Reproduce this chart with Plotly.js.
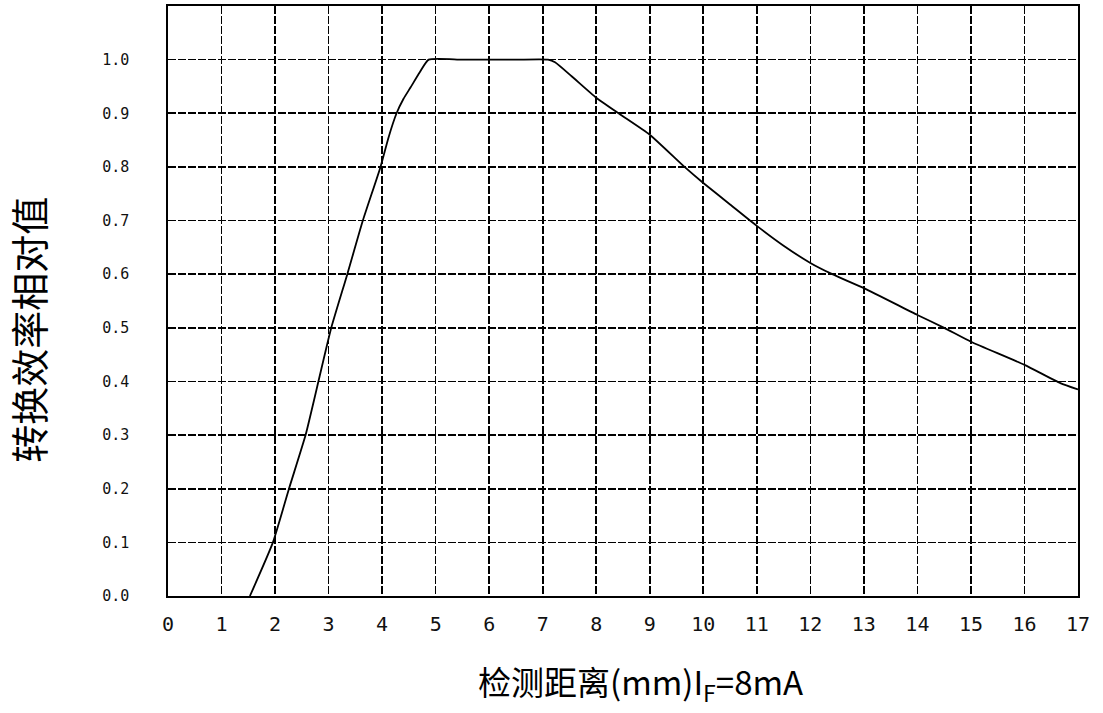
<!DOCTYPE html>
<html>
<head>
<meta charset="utf-8">
<script src="https://cdn.plot.ly/plotly-3.0.1.min.js"></script>
<style>html,body{margin:0;padding:0;background:#fff;}#chart{width:1103px;height:713px;}</style>
</head>
<body>
<div id="chart"></div>
<script>
// distance (mm) and relative conversion efficiency
const distance = [1.53, 1.96, 2.26, 2.57, 2.81, 3.05, 3.35, 3.64, 3.97, 4.12, 4.27, 4.4, 4.53, 4.7, 4.87, 5.5, 6.5, 7.1, 7.23, 7.54, 8.0, 8.43, 9.0, 9.66, 10.0, 10.5, 11.0, 11.5, 12.0, 12.41, 13.0, 14.0, 14.5, 15.0, 16.0, 16.67, 17.0];
const efficiency = [0.0, 0.1, 0.2, 0.3, 0.4, 0.5, 0.6, 0.7, 0.8, 0.855, 0.9, 0.927, 0.948, 0.976, 1.0, 1.0, 1.0, 1.0, 0.995, 0.969, 0.929, 0.899, 0.86, 0.799, 0.77, 0.73, 0.69, 0.653, 0.621, 0.6, 0.574, 0.524, 0.5, 0.474, 0.431, 0.397, 0.385];
const xTickVals = [0,1,2,3,4,5,6,7,8,9,10,11,12,13,14,15,16,17];
const yTickVals = [0,0.1,0.2,0.3,0.4,0.5,0.6,0.7,0.8,0.9,1.0];
const yTickText = ["0.0","0.1","0.2","0.3","0.4","0.5","0.6","0.7","0.8","0.9","1.0"];
const xTitle = "检测距离(mm)I<sub>F</sub>=8mA";
const yTitle = "转换效率相对值";

const trace = {
  x: distance, y: efficiency, type: 'scatter', mode: 'lines',
  line: {color: '#000', width: 1.8, shape: 'spline', smoothing: 0.5},
  hoverinfo: 'skip'
};
const monoFont = 'DejaVu Sans Mono, Liberation Mono, monospace';
const layout = {
  width: 1103, height: 713,
  margin: {l: 168, r: 25, t: 6, b: 117},
  paper_bgcolor: '#fff', plot_bgcolor: '#fff',
  showlegend: false,
  xaxis: {
    range: [0, 17], tickvals: xTickVals, ticktext: xTickVals.map(String),
    showgrid: true, gridcolor: '#000', gridwidth: 1.6, griddash: '8px,2px',
    zeroline: false, showline: true, mirror: true, linecolor: '#000', linewidth: 1.6,
    ticks: '', ticklabelstandoff: 9, tickfont: {family: monoFont, size: 20, color: '#111'}
  },
  yaxis: {
    range: [0, 1.1], tickvals: yTickVals, ticktext: yTickText,
    showgrid: true, gridcolor: '#000', gridwidth: 1.6, griddash: '8px,2px',
    zeroline: false, showline: true, mirror: true, linecolor: '#000', linewidth: 1.6,
    ticks: '', ticklabelstandoff: 34, tickfont: {family: monoFont, size: 15, color: '#111'}
  },
  annotations: [
    {text: xTitle, xref: 'paper', yref: 'paper', x: 0.519, y: -0.148, xanchor: 'center', yanchor: 'middle',
     showarrow: false, font: {family: 'Noto Sans CJK SC, Noto Sans', size: 33, color: '#000'}},
    {text: yTitle, xref: 'paper', yref: 'paper', x: -0.154, y: 0.451, xanchor: 'center', yanchor: 'middle',
     textangle: -90, showarrow: false, font: {family: 'Noto Sans CJK SC', size: 38, color: '#000'}}
  ]
};
Plotly.newPlot('chart', [trace], layout, {displayModeBar: false, staticPlot: true});
</script>
</body>
</html>
